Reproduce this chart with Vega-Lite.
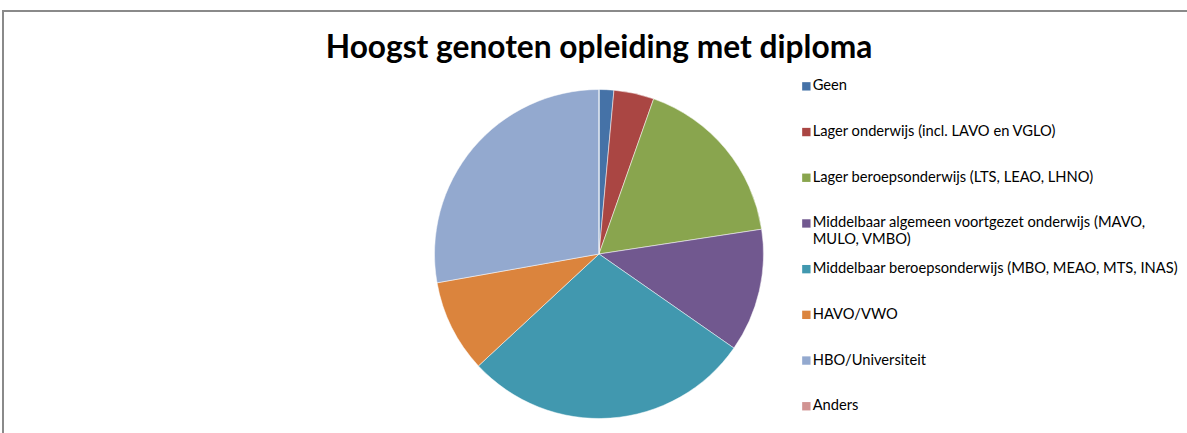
{
  "$schema": "https://vega.github.io/schema/vega-lite/v6.json",
  "autosize": {"type": "none"},
  "padding": {"left": 3, "top": 11, "right": 0, "bottom": 0},
  "width": 1192,
  "height": 486,
  "background": "white",
  "title": {
    "text": "Hoogst genoten opleiding met diploma",
    "font": "Lato",
    "fontSize": 31.7,
    "fontWeight": "bold",
    "color": "#000000",
    "anchor": "middle",
    "frame": "group",
    "baseline": "middle",
    "offset": -70
  },
  "config": {
    "view": {"stroke": null}
  },
  "layer": [
    {
      "data": {"values": [{}]},
      "mark": {"type": "rect", "fill": null, "stroke": "#8a8a8a", "strokeWidth": 2},
      "encoding": {}
    },
    {
      "data": {
        "values": [
          {"categorie": "Geen", "aandeel": 1.45, "volgorde": 1},
          {"categorie": "Lager onderwijs (incl. LAVO en VGLO)", "aandeel": 3.94, "volgorde": 2},
          {"categorie": "Lager beroepsonderwijs (LTS, LEAO, LHNO)", "aandeel": 17.2, "volgorde": 3},
          {"categorie": "Middelbaar algemeen voortgezet onderwijs (MAVO, MULO, VMBO)", "aandeel": 12.1, "volgorde": 4},
          {"categorie": "Middelbaar beroepsonderwijs (MBO, MEAO, MTS, INAS)", "aandeel": 28.4, "volgorde": 5},
          {"categorie": "HAVO/VWO", "aandeel": 9.1, "volgorde": 6},
          {"categorie": "HBO/Universiteit", "aandeel": 27.8, "volgorde": 7},
          {"categorie": "Anders", "aandeel": 0, "volgorde": 8}
        ]
      },
      "mark": {"type": "arc", "outerRadius": 164.5, "stroke": "#ffffff", "strokeWidth": 0.5},
      "encoding": {
        "theta": {"field": "aandeel", "type": "quantitative", "stack": true},
        "order": {"field": "volgorde", "type": "quantitative", "sort": "ascending"},
        "color": {
          "field": "categorie",
          "type": "nominal",
          "scale": {
            "domain": [
              "Geen",
              "Lager onderwijs (incl. LAVO en VGLO)",
              "Lager beroepsonderwijs (LTS, LEAO, LHNO)",
              "Middelbaar algemeen voortgezet onderwijs (MAVO, MULO, VMBO)",
              "Middelbaar beroepsonderwijs (MBO, MEAO, MTS, INAS)",
              "HAVO/VWO",
              "HBO/Universiteit",
              "Anders"
            ],
            "range": ["#4572A7", "#AA4643", "#89A54E", "#71588F", "#4198AF", "#DB843D", "#93A9CF", "#D19392"]
          },
          "legend": {
            "title": null,
            "orient": "none",
            "legendX": 796,
            "legendY": 68,
            "padding": 0,
            "symbolType": "square",
            "symbolSize": 70,
            "symbolStrokeWidth": 0,
            "labelFont": "Lato",
            "labelFontSize": 14.7,
            "labelColor": "#000000",
            "labelOffset": -1,
            "labelLimit": 500,
            "labelBaseline": "middle",
            "gridAlign": "all",
            "rowPadding": 13.7,
            "labelExpr": "datum.label == 'Middelbaar algemeen voortgezet onderwijs (MAVO, MULO, VMBO)' ? ['Middelbaar algemeen voortgezet onderwijs (MAVO,', 'MULO, VMBO)'] : datum.label"
          }
        }
      }
    }
  ]
}
